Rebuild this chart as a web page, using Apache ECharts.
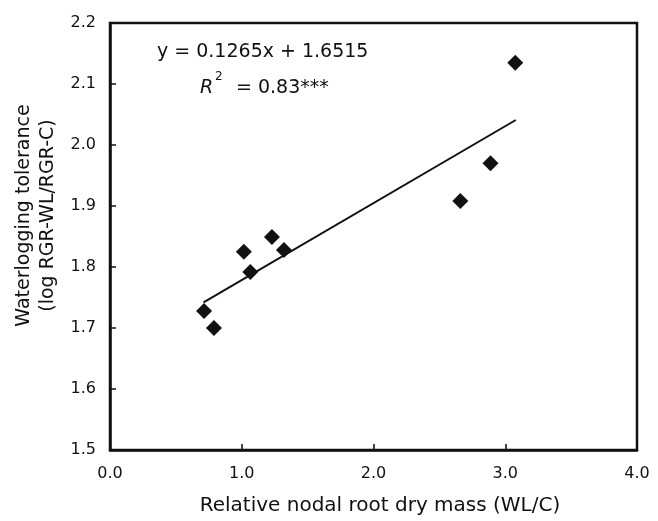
<!DOCTYPE html>
<html>
<head>
<meta charset="utf-8">
<script src="https://cdn.jsdelivr.net/npm/echarts@6/dist/echarts.min.js"></script>
<style>
html,body{margin:0;padding:0;background:#fff;}
#chart{width:658px;height:521px;}
</style>
</head>
<body>
<div id="chart"></div>
<script>
// Data
const rootMass = [0.714, 0.789, 1.016, 1.065, 1.229, 1.320, 2.659, 2.888, 3.076];
const tolerance = [1.728, 1.700, 1.825, 1.792, 1.849, 1.828, 1.908, 1.970, 2.135];
const fitX = [0.71, 3.08];
const fitY = [1.742, 2.041];
const equationText = 'y = 0.1265x + 1.6515';
const r2Value = '= 0.83***';
const xTitle = 'Relative nodal root dry mass (WL/C)';
const yTitle = 'Waterlogging tolerance\n(log RGR-WL/RGR-C)';

const FONT = 'DejaVu Sans';
const INK = '#111111';

const chart = echarts.init(document.getElementById('chart'));
chart.setOption({
  animation: false,
  backgroundColor: '#fff',
  grid: {
    left: 110, right: 21, top: 23, bottom: 69,
    show: true, borderColor: INK, borderWidth: 2.5, backgroundColor: 'transparent'
  },
  xAxis: {
    type: 'value', min: 0, max: 4, interval: 1,
    name: xTitle, nameLocation: 'middle', nameGap: 46,
    nameTextStyle: { fontFamily: FONT, fontSize: 20, color: INK, padding: [0, 0, 0, 13] },
    axisLine: { show: true, onZero: false, lineStyle: { color: INK, width: 2.5 } },
    axisTick: { show: true, inside: true, length: 6, lineStyle: { color: INK, width: 1.5 } },
    axisLabel: { fontFamily: FONT, fontSize: 16, color: INK, margin: 16,
      formatter: v => v.toFixed(1) },
    splitLine: { show: false }
  },
  yAxis: {
    type: 'value', min: 1.5, max: 2.2, interval: 0.1,
    name: yTitle, nameLocation: 'middle', nameRotate: 90, nameGap: 50,
    nameTextStyle: { fontFamily: FONT, fontSize: 19, lineHeight: 24, color: INK, padding: [0, 0, 0, 42] },
    axisLine: { show: true, onZero: false, lineStyle: { color: INK, width: 2.5 } },
    axisTick: { show: true, inside: true, length: 6, lineStyle: { color: INK, width: 1.5 } },
    axisLabel: { fontFamily: FONT, fontSize: 16, color: INK, margin: 14,
      formatter: v => v.toFixed(1) },
    splitLine: { show: false }
  },
  graphic: [
    { type: 'text', left: 157, top: 43,
      style: { text: equationText, fontFamily: FONT, fontSize: 19, fill: INK } },
    { type: 'text', left: 200, top: 79,
      style: { text: 'R', fontFamily: FONT, fontSize: 19, fontStyle: 'italic', fill: INK } },
    { type: 'text', left: 215, top: 71,
      style: { text: '2', fontFamily: FONT, fontSize: 12, fill: INK } },
    { type: 'text', left: 236, top: 79,
      style: { text: r2Value, fontFamily: FONT, fontSize: 19, fill: INK } }
  ],
  series: [
    {
      type: 'line',
      data: fitX.map((x, i) => [x, fitY[i]]),
      showSymbol: false, symbol: 'none',
      lineStyle: { color: INK, width: 2 },
      z: 2
    },
    {
      type: 'scatter',
      data: rootMass.map((x, i) => [x, tolerance[i]]),
      symbol: 'diamond', symbolSize: [16, 16],
      itemStyle: { color: INK, opacity: 1 },
      z: 3
    }
  ]
});
</script>
</body>
</html>
